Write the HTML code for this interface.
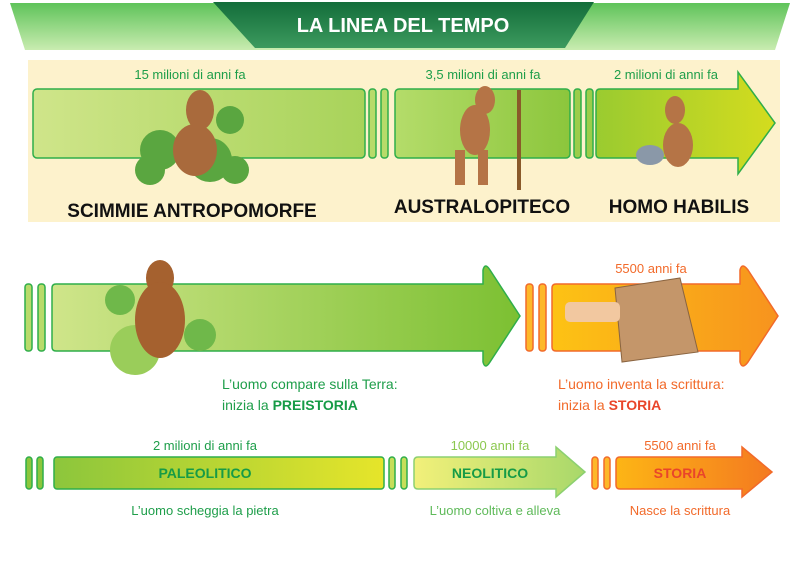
<!DOCTYPE html>
<html><head><meta charset="utf-8"><style>
html,body{margin:0;padding:0;background:#fff}
svg{display:block}
text{font-family:"Liberation Sans",sans-serif}
</style></head><body>
<svg width="800" height="565" viewBox="0 0 800 565" xmlns="http://www.w3.org/2000/svg">
<defs>
<linearGradient id="hdr" x1="0" y1="0" x2="0" y2="1"><stop offset="0" stop-color="#5fc35a"/><stop offset="1" stop-color="#c9ecb0"/></linearGradient>
<linearGradient id="hdrD" x1="0" y1="0" x2="0" y2="1"><stop offset="0" stop-color="#136d3a"/><stop offset="1" stop-color="#3c9a5e"/></linearGradient>
<linearGradient id="g1" x1="0" y1="0" x2="1" y2="0"><stop offset="0" stop-color="#cfe58a"/><stop offset="1" stop-color="#a8d35a"/></linearGradient>
<linearGradient id="g2" x1="0" y1="0" x2="1" y2="0"><stop offset="0" stop-color="#b4dc6a"/><stop offset="1" stop-color="#8cc63c"/></linearGradient>
<linearGradient id="g3" x1="0" y1="0" x2="1" y2="0"><stop offset="0" stop-color="#9acb30"/><stop offset="1" stop-color="#d4dc1e"/></linearGradient>
<linearGradient id="g4" x1="0" y1="0" x2="1" y2="0"><stop offset="0" stop-color="#cfe58a"/><stop offset="1" stop-color="#7cc032"/></linearGradient>
<linearGradient id="o1" x1="0" y1="0" x2="1" y2="0"><stop offset="0" stop-color="#fdc314"/><stop offset="1" stop-color="#f7931e"/></linearGradient>
<linearGradient id="pal" x1="0" y1="0" x2="1" y2="0"><stop offset="0" stop-color="#8cc63c"/><stop offset="1" stop-color="#e6e52a"/></linearGradient>
<linearGradient id="neo" x1="0" y1="0" x2="1" y2="0"><stop offset="0" stop-color="#f2f07a"/><stop offset="1" stop-color="#a8d86a"/></linearGradient>
<linearGradient id="sto" x1="0" y1="0" x2="1" y2="0"><stop offset="0" stop-color="#fdb515"/><stop offset="1" stop-color="#f47a20"/></linearGradient>
</defs>
<polygon points="10,3 790,3 775,50 25,50" fill="url(#hdr)"/>
<polygon points="213,2 594,2 565,48 255,48" fill="url(#hdrD)"/>
<text x="403" y="32" text-anchor="middle" font-size="20" font-weight="bold" fill="#fff">LA LINEA DEL TEMPO</text>
<rect x="28" y="60" width="752" height="162" fill="#fdf2cc"/>
<g stroke="#2fae4a" stroke-width="1.5">
<rect x="33" y="89" width="332" height="69" rx="4" fill="url(#g1)"/>
<rect x="369" y="89" width="7" height="69" rx="3" fill="#b8db6a"/>
<rect x="381" y="89" width="7" height="69" rx="3" fill="#b8db6a"/>
<rect x="395" y="89" width="175" height="69" rx="4" fill="url(#g2)"/>
<rect x="574" y="89" width="7" height="69" rx="3" fill="#9ccd4a"/>
<rect x="586" y="89" width="7" height="69" rx="3" fill="#9ccd4a"/>
<path d="M600,89 H738 V72 L775,123 L738,174 V158 H600 Q596,158 596,154 V93 Q596,89 600,89 Z" fill="url(#g3)"/>
</g>
<text x="190" y="79" text-anchor="middle" font-size="13" fill="#1e9e4a">15 milioni di anni fa</text>
<text x="483" y="79" text-anchor="middle" font-size="13" fill="#1e9e4a">3,5 milioni di anni fa</text>
<text x="666" y="79" text-anchor="middle" font-size="13" fill="#1e9e4a">2 milioni di anni fa</text>
<g fill="#5aa640"><circle cx="160" cy="150" r="20"/><circle cx="210" cy="160" r="22"/><circle cx="230" cy="120" r="14"/><circle cx="150" cy="170" r="15"/><circle cx="235" cy="170" r="14"/></g>
<g fill="#a96a3c"><ellipse cx="200" cy="110" rx="14" ry="20"/><ellipse cx="195" cy="150" rx="22" ry="26"/></g>
<g fill="#b57446"><ellipse cx="485" cy="100" rx="10" ry="14"/><ellipse cx="475" cy="130" rx="15" ry="25"/><rect x="455" y="150" width="10" height="35" /><rect x="478" y="150" width="10" height="35"/><rect x="517" y="90" width="4" height="100" fill="#8a5a2a"/></g>
<g fill="#b57446"><ellipse cx="675" cy="110" rx="10" ry="14"/><ellipse cx="678" cy="145" rx="15" ry="22"/><ellipse cx="650" cy="155" rx="14" ry="10" fill="#8a98a8"/></g>
<g font-size="19" font-weight="bold" fill="#111" text-anchor="middle">
<text x="192" y="217">SCIMMIE ANTROPOMORFE</text>
<text x="482" y="213">AUSTRALOPITECO</text>
<text x="679" y="213">HOMO HABILIS</text>
</g>
<g stroke="#2fae4a" stroke-width="1.5">
<rect x="25" y="284" width="7" height="67" rx="3" fill="#b8db6a"/>
<rect x="38" y="284" width="7" height="67" rx="3" fill="#b8db6a"/>
<path d="M56,284 H483 V270 Q485,262 490,270 L520,316 L490,362 Q485,370 483,362 V351 H56 Q52,351 52,347 V288 Q52,284 56,284 Z" fill="url(#g4)"/>
</g>
<g stroke="#f26a2a" stroke-width="1.5">
<rect x="526" y="284" width="7" height="67" rx="3" fill="#fdb82a"/>
<rect x="539" y="284" width="7" height="67" rx="3" fill="#fdb82a"/>
<path d="M556,284 H740 V270 Q742,262 748,270 L778,316 L748,362 Q742,370 740,362 V351 H556 Q552,351 552,347 V288 Q552,284 556,284 Z" fill="url(#o1)"/>
</g>
<text x="651" y="273" text-anchor="middle" font-size="13" fill="#f26a2a">5500 anni fa</text>
<g fill="#6fb84a"><circle cx="120" cy="300" r="15"/><circle cx="200" cy="335" r="16"/><circle cx="135" cy="350" r="25" fill="#9acd5a"/></g>
<g fill="#a5612f"><ellipse cx="160" cy="278" rx="14" ry="18"/><ellipse cx="160" cy="320" rx="25" ry="38"/></g>
<polygon points="615,288 680,278 698,352 622,362" fill="#c4966a" stroke="#8a6440"/>
<rect x="565" y="302" width="55" height="20" fill="#f2c8a0" rx="5"/>
<g font-size="14">
<text x="222" y="389" fill="#1e9e4a">L’uomo compare sulla Terra:</text>
<text x="222" y="410" fill="#1e9e4a">inizia la <tspan font-weight="bold" fill="#169b46">PREISTORIA</tspan></text>
<text x="558" y="389" fill="#f26a2a">L’uomo inventa la scrittura:</text>
<text x="558" y="410" fill="#f26a2a">inizia la <tspan font-weight="bold" fill="#e9452a">STORIA</tspan></text>
</g>
<g stroke="#2fae4a" stroke-width="1.5">
<rect x="26" y="457" width="6" height="32" rx="3" fill="#8cc63c"/>
<rect x="37" y="457" width="6" height="32" rx="3" fill="#8cc63c"/>
<rect x="54" y="457" width="330" height="32" rx="3" fill="url(#pal)"/>
<rect x="389" y="457" width="6" height="32" rx="3" fill="#c6de5a"/>
<rect x="401" y="457" width="6" height="32" rx="3" fill="#c6de5a"/>
</g>
<path d="M418,457 H556 V447 L585,472 L556,497 V489 H418 Q414,489 414,485 V461 Q414,457 418,457 Z" fill="url(#neo)" stroke="#8cd070" stroke-width="1.5"/>
<g stroke="#f26a2a" stroke-width="1.5">
<rect x="592" y="457" width="6" height="32" rx="3" fill="#fdb82a"/>
<rect x="604" y="457" width="6" height="32" rx="3" fill="#fdb82a"/>
<path d="M620,457 H742 V447 L772,472 L742,497 V489 H620 Q616,489 616,485 V461 Q616,457 620,457 Z" fill="url(#sto)"/>
</g>
<g font-size="14" text-anchor="middle" font-weight="bold">
<text x="205" y="478" fill="#169b46">PALEOLITICO</text>
<text x="490" y="478" fill="#169b46">NEOLITICO</text>
<text x="680" y="478" fill="#e9452a">STORIA</text>
</g>
<g font-size="13" text-anchor="middle">
<text x="205" y="450" fill="#1e9e4a">2 milioni di anni fa</text>
<text x="490" y="450" fill="#8cc850">10000 anni fa</text>
<text x="680" y="450" fill="#f26a2a">5500 anni fa</text>
<text x="205" y="515" fill="#1e9e4a">L’uomo scheggia la pietra</text>
<text x="495" y="515" fill="#5fba5a">L’uomo coltiva e alleva</text>
<text x="680" y="515" fill="#f26a2a">Nasce la scrittura</text>
</g>
</svg>
</body></html>
